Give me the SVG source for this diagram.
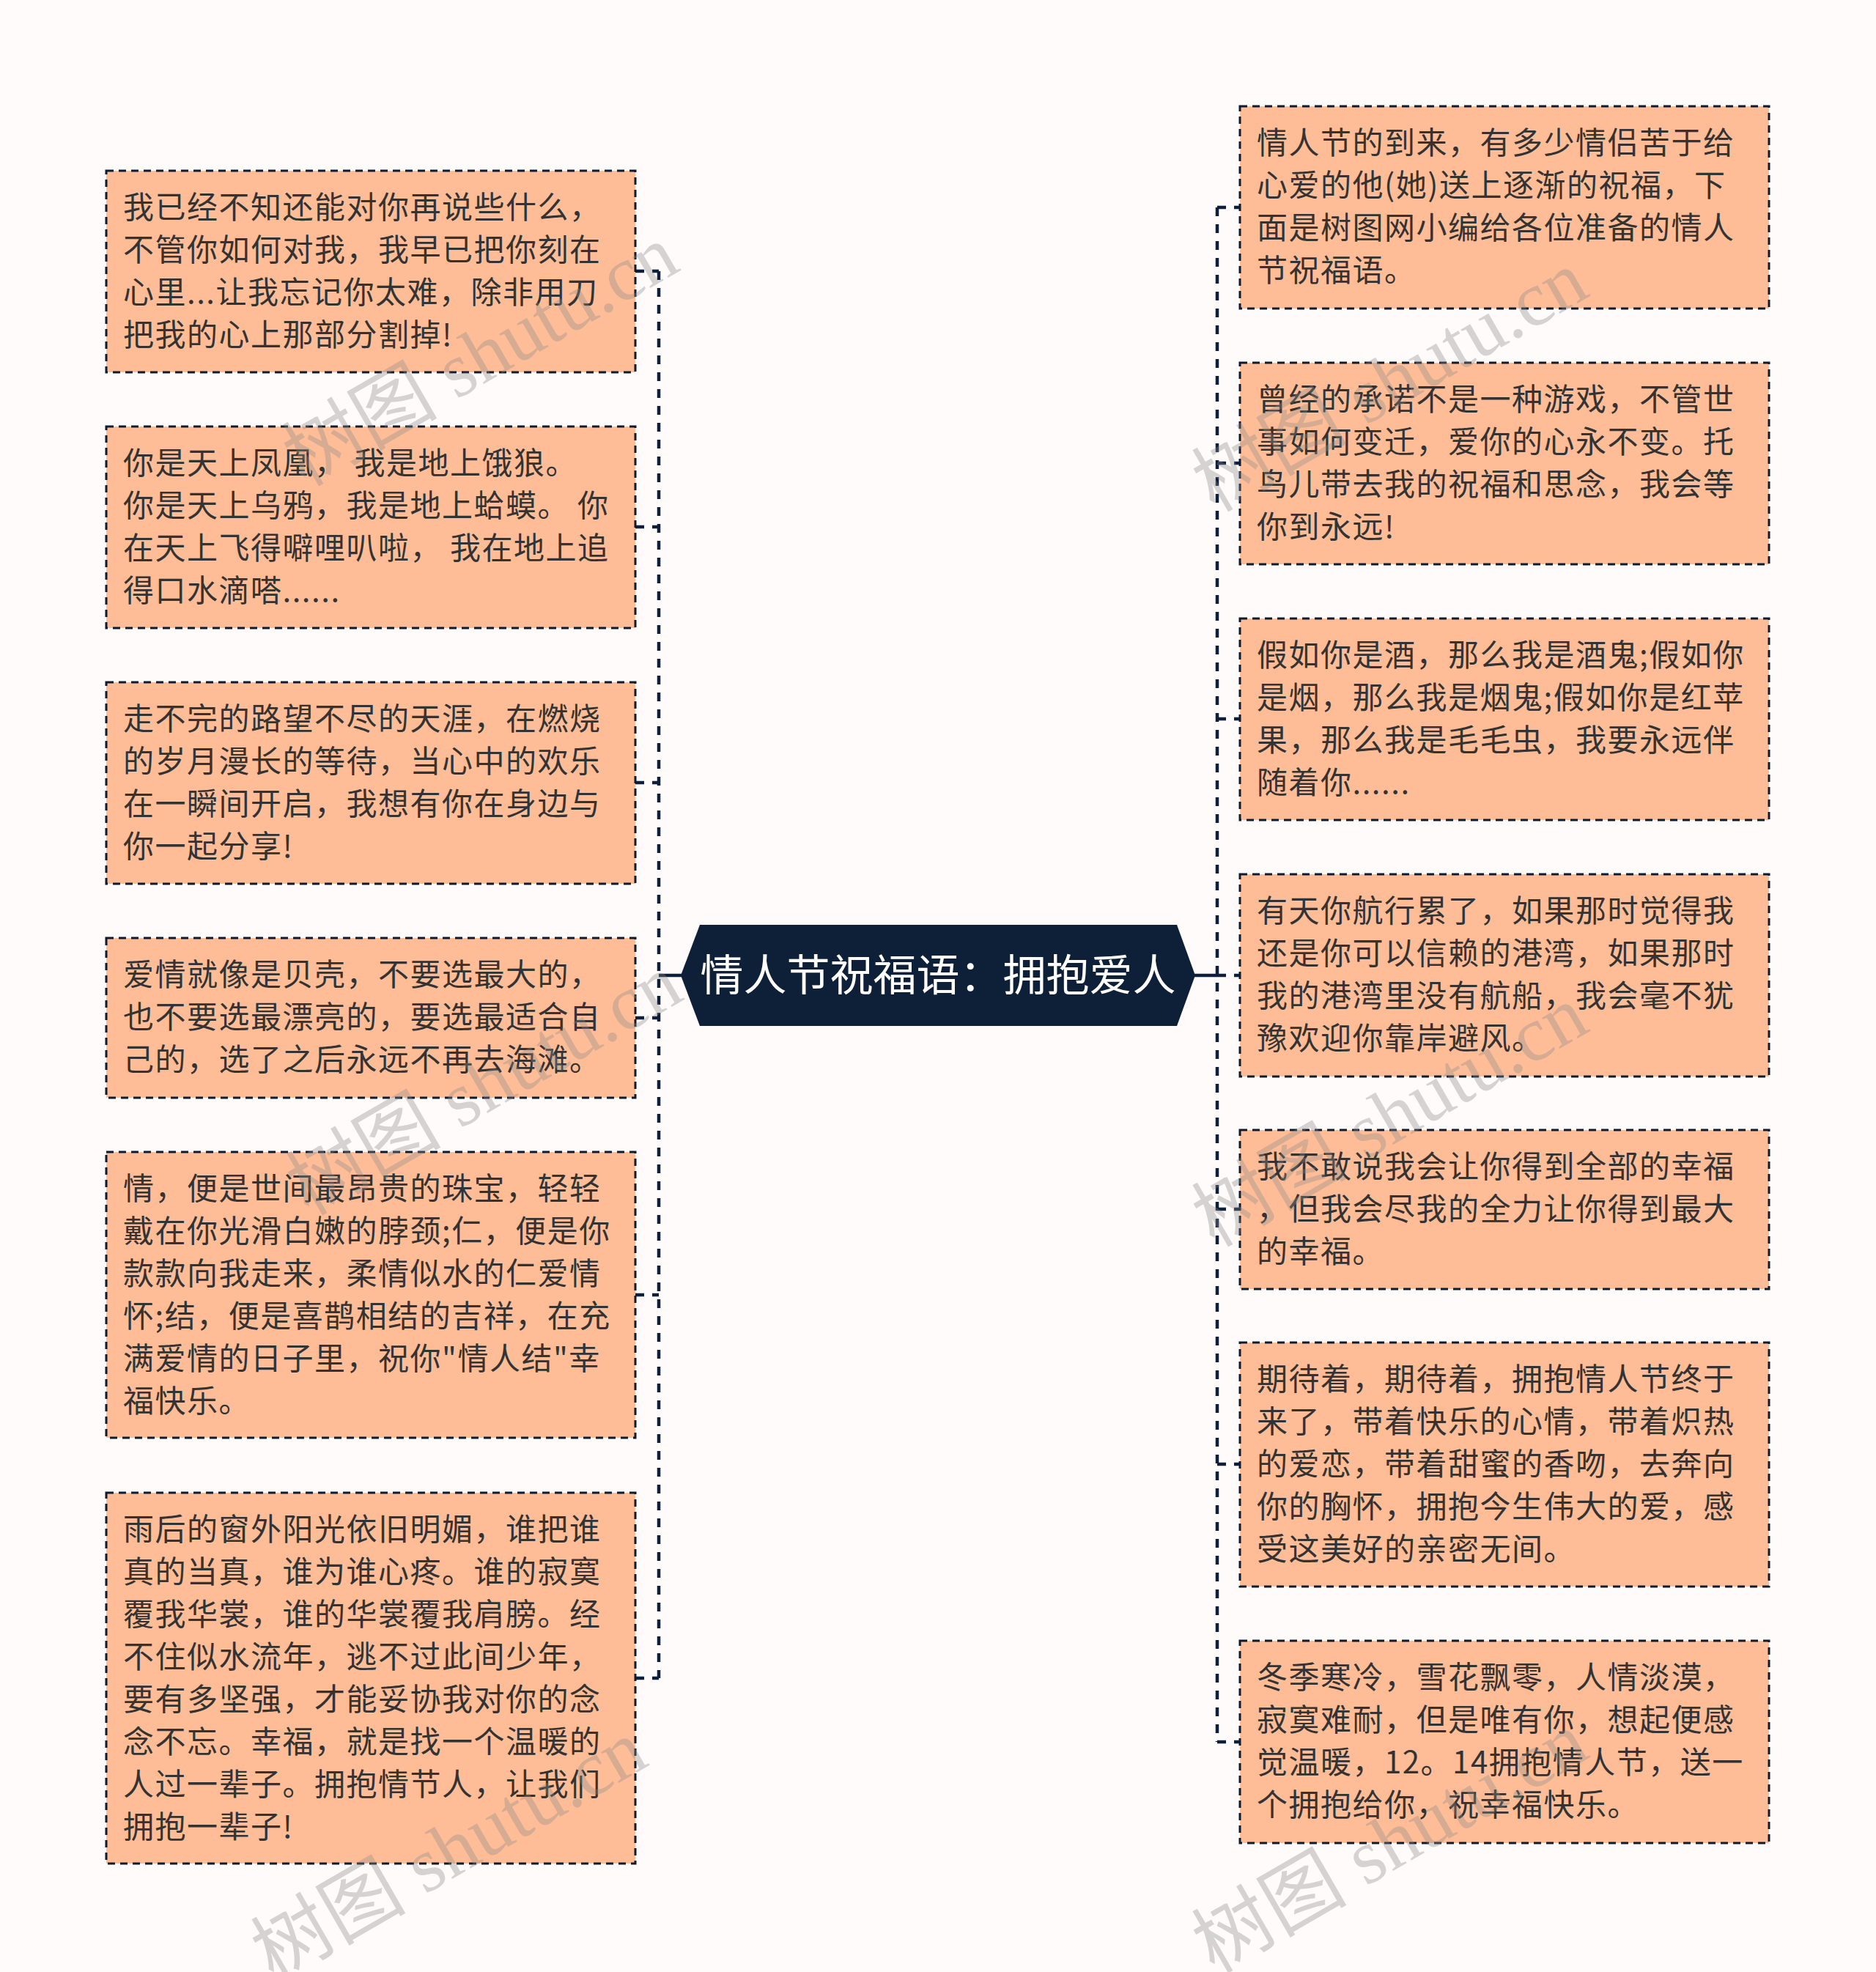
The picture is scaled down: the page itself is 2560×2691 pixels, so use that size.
<svg xmlns="http://www.w3.org/2000/svg" width="2560" height="2691" viewBox="0 0 2560 2691">
<style>
.bg{fill:#fffbfa}
.box{fill:#ffbd97;stroke:#0d1b2e;stroke-width:3;stroke-dasharray:10 7}
.t{font-family:"Noto Sans CJK SC","Noto Sans",sans-serif;font-size:42px;letter-spacing:1.5px;fill:#333333}
.ct{font-family:"Noto Sans CJK SC","Noto Sans",sans-serif;font-size:59px;fill:#ffffff}
.ln{fill:none;stroke:#0d1f3a;stroke-width:4.5;stroke-dasharray:12 11}
.sl{fill:none;stroke:#0d1f3a;stroke-width:4.5}
.wm{font-family:"Liberation Serif","Noto Sans CJK SC",serif;font-size:106px;fill:#8a8a8a;opacity:0.35}
</style>
<rect class="bg" x="0" y="0" width="2560" height="2691"/>
<g id="connectors">
<path class="ln" d="M899 370 V2290"/>
<path class="ln" d="M867 370 H899 M867 719 H899 M867 1068 H899 M867 1389 H899 M867 1767 H899 M867 2290 H899"/>
<path class="sl" d="M899 1331 H930"/>
<path class="ln" d="M1661 283 V2377"/>
<path class="ln" d="M1661 283 H1692 M1661 632 H1692 M1661 981 H1692 M1661 1331 H1692 M1661 1650 H1692 M1661 1998 H1692 M1661 2377 H1692"/>
<path class="sl" d="M1630 1331 H1661"/>
</g>
<g id="center">
<polygon points="929,1331 955,1262 1606,1262 1631,1331 1606,1400 955,1400" fill="#0e1f38"/>
<text class="ct" x="1280" y="1352" text-anchor="middle">情人节祝福语：拥抱爱人</text>
</g>
<g id="l1">
<rect class="box" x="145" y="233" width="722" height="275"/>
<text class="t" x="168" y="298"><tspan x="168">我已经不知还能对你再说些什么，</tspan><tspan x="168" dy="58">不管你如何对我，我早已把你刻在</tspan><tspan x="168" dy="58">心里...让我忘记你太难，除非用刀</tspan><tspan x="168" dy="58">把我的心上那部分割掉!</tspan></text>
</g>
<g id="l2">
<rect class="box" x="145" y="582" width="722" height="275"/>
<text class="t" x="168" y="647"><tspan x="168">你是天上凤凰， 我是地上饿狼。</tspan><tspan x="168" dy="58">你是天上乌鸦，我是地上蛤蟆。 你</tspan><tspan x="168" dy="58">在天上飞得噼哩叭啦， 我在地上追</tspan><tspan x="168" dy="58">得口水滴嗒......</tspan></text>
</g>
<g id="l3">
<rect class="box" x="145" y="931" width="722" height="275"/>
<text class="t" x="168" y="996"><tspan x="168">走不完的路望不尽的天涯，在燃烧</tspan><tspan x="168" dy="58">的岁月漫长的等待，当心中的欢乐</tspan><tspan x="168" dy="58">在一瞬间开启，我想有你在身边与</tspan><tspan x="168" dy="58">你一起分享!</tspan></text>
</g>
<g id="l4">
<rect class="box" x="145" y="1280" width="722" height="218"/>
<text class="t" x="168" y="1345"><tspan x="168">爱情就像是贝壳，不要选最大的，</tspan><tspan x="168" dy="58">也不要选最漂亮的，要选最适合自</tspan><tspan x="168" dy="58">己的，选了之后永远不再去海滩。</tspan></text>
</g>
<g id="l5">
<rect class="box" x="145" y="1572" width="722" height="390"/>
<text class="t" x="168" y="1637"><tspan x="168">情，便是世间最昂贵的珠宝，轻轻</tspan><tspan x="168" dy="58">戴在你光滑白嫩的脖颈;仁，便是你</tspan><tspan x="168" dy="58">款款向我走来，柔情似水的仁爱情</tspan><tspan x="168" dy="58">怀;结，便是喜鹊相结的吉祥，在充</tspan><tspan x="168" dy="58">满爱情的日子里，祝你"情人结"幸</tspan><tspan x="168" dy="58">福快乐。</tspan></text>
</g>
<g id="l6">
<rect class="box" x="145" y="2037" width="722" height="506"/>
<text class="t" x="168" y="2102"><tspan x="168">雨后的窗外阳光依旧明媚，谁把谁</tspan><tspan x="168" dy="58">真的当真，谁为谁心疼。谁的寂寞</tspan><tspan x="168" dy="58">覆我华裳，谁的华裳覆我肩膀。经</tspan><tspan x="168" dy="58">不住似水流年，逃不过此间少年，</tspan><tspan x="168" dy="58">要有多坚强，才能妥协我对你的念</tspan><tspan x="168" dy="58">念不忘。幸福，就是找一个温暖的</tspan><tspan x="168" dy="58">人过一辈子。拥抱情节人，让我们</tspan><tspan x="168" dy="58">拥抱一辈子!</tspan></text>
</g>
<g id="r1">
<rect class="box" x="1692" y="145" width="722" height="276"/>
<text class="t" x="1715" y="210"><tspan x="1715">情人节的到来，有多少情侣苦于给</tspan><tspan x="1715" dy="58">心爱的他(她)送上逐渐的祝福，下</tspan><tspan x="1715" dy="58">面是树图网小编给各位准备的情人</tspan><tspan x="1715" dy="58">节祝福语。</tspan></text>
</g>
<g id="r2">
<rect class="box" x="1692" y="495" width="722" height="275"/>
<text class="t" x="1715" y="560"><tspan x="1715">曾经的承诺不是一种游戏，不管世</tspan><tspan x="1715" dy="58">事如何变迁，爱你的心永不变。托</tspan><tspan x="1715" dy="58">鸟儿带去我的祝福和思念，我会等</tspan><tspan x="1715" dy="58">你到永远!</tspan></text>
</g>
<g id="r3">
<rect class="box" x="1692" y="844" width="722" height="275"/>
<text class="t" x="1715" y="909"><tspan x="1715">假如你是酒，那么我是酒鬼;假如你</tspan><tspan x="1715" dy="58">是烟，那么我是烟鬼;假如你是红苹</tspan><tspan x="1715" dy="58">果，那么我是毛毛虫，我要永远伴</tspan><tspan x="1715" dy="58">随着你......</tspan></text>
</g>
<g id="r4">
<rect class="box" x="1692" y="1193" width="722" height="276"/>
<text class="t" x="1715" y="1258"><tspan x="1715">有天你航行累了，如果那时觉得我</tspan><tspan x="1715" dy="58">还是你可以信赖的港湾，如果那时</tspan><tspan x="1715" dy="58">我的港湾里没有航船，我会毫不犹</tspan><tspan x="1715" dy="58">豫欢迎你靠岸避风。</tspan></text>
</g>
<g id="r5">
<rect class="box" x="1692" y="1542" width="722" height="217"/>
<text class="t" x="1715" y="1607"><tspan x="1715">我不敢说我会让你得到全部的幸福</tspan><tspan x="1715" dy="58">，但我会尽我的全力让你得到最大</tspan><tspan x="1715" dy="58">的幸福。</tspan></text>
</g>
<g id="r6">
<rect class="box" x="1692" y="1832" width="722" height="333"/>
<text class="t" x="1715" y="1897"><tspan x="1715">期待着，期待着，拥抱情人节终于</tspan><tspan x="1715" dy="58">来了，带着快乐的心情，带着炽热</tspan><tspan x="1715" dy="58">的爱恋，带着甜蜜的香吻，去奔向</tspan><tspan x="1715" dy="58">你的胸怀，拥抱今生伟大的爱，感</tspan><tspan x="1715" dy="58">受这美好的亲密无间。</tspan></text>
</g>
<g id="r7">
<rect class="box" x="1692" y="2239" width="722" height="276"/>
<text class="t" x="1715" y="2304"><tspan x="1715">冬季寒冷，雪花飘零，人情淡漠，</tspan><tspan x="1715" dy="58">寂寞难耐，但是唯有你，想起便感</tspan><tspan x="1715" dy="58">觉温暖，12。14拥抱情人节，送一</tspan><tspan x="1715" dy="58">个拥抱给你，祝幸福快乐。</tspan></text>
</g>
<g id="watermarks">
<text class="wm" transform="translate(416 665) rotate(-30)">树图 shutu.cn</text>
<text class="wm" transform="translate(1657 700) rotate(-30)">树图 shutu.cn</text>
<text class="wm" transform="translate(421 1660) rotate(-30)">树图 shutu.cn</text>
<text class="wm" transform="translate(1657 1703) rotate(-30)">树图 shutu.cn</text>
<text class="wm" transform="translate(373 2705) rotate(-30)">树图 shutu.cn</text>
<text class="wm" transform="translate(1657 2694) rotate(-30)">树图 shutu.cn</text>
</g>
</svg>
